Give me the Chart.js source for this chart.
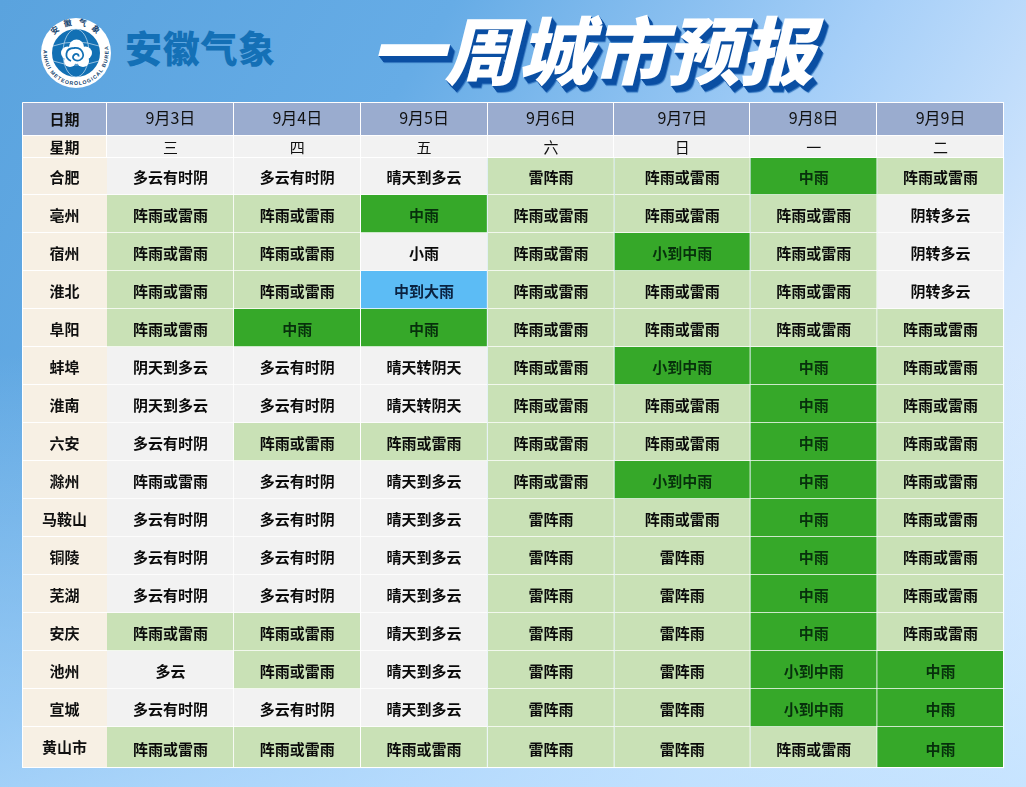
<!DOCTYPE html>
<html lang="zh">
<head>
<meta charset="utf-8">
<title>一周城市预报</title>
<script src="https://cdn.jsdelivr.net/npm/chart.js@4"></script>
<style>
    html, body { margin: 0; height: 100%; overflow: hidden; }
    body {
        position: relative;
        width: 1026px; height: 787px;
        background:
            linear-gradient(to top, rgba(185, 222, 255, 0.7) 0%, rgba(185, 222, 255, 0) 55%),
            linear-gradient(122deg, #5aa3de 0%, #66ace6 30%, #a6cff8 58%, #d2e6fd 78%, #e8f2ff 100%);
        font-family: "Noto Sans CJK SC", sans-serif;
    }
    #wrap { position: absolute; left: 0; top: 0; width: 1026px; height: 787px; }
    #logo { position: absolute; left: 40px; top: 17px; }
    #brand { position: absolute; left: 125px; top: 20px; font-size: 37px; line-height: 54px; font-weight: 900; letter-spacing: 0.7px; color: #1470b6; white-space: nowrap; }
    #title {
        position: absolute; left: 378px; top: -1px;
        font-size: 74px; line-height: 96px; font-weight: 900; color: #fff; white-space: nowrap;
        transform: skewX(-14deg);
        text-shadow: 1px 1px 0 #0b4fa3, 2px 2px 0 #0b4fa3, 3px 3px 0 #0b4fa3, 4px 4px 0 #0b4fa3, 5px 5px 0 #0b4fa3, 6px 6px 0 #0b4fa3, 7px 7px 1px #2f72bd;
    }
</style>
</head>
<body>
<svg id="logo" width="72" height="72" viewBox="0 0 72 72">
    <defs>
        <path id="arcTop" d="M 8 36 A 28 28 0 0 1 64 36"></path>
        <path id="arcBottom" d="M 4 30 A 32.5 32.5 0 1 0 68 30"></path>
    </defs>
    <circle cx="36" cy="36" r="35" fill="#fff"></circle>
    <circle cx="36" cy="36" r="24" fill="#1270b4"></circle>
    <g fill="none" stroke="#cfe4f3" stroke-width="0.7">
        <ellipse cx="36" cy="36" rx="13" ry="24"></ellipse>
        <path d="M13 29 Q36 21 59 29 M13 44 Q36 52 59 44"></path>
    </g>
    <g fill="#fff">
        <circle cx="36.5" cy="30" r="7.5"></circle>
        <circle cx="27.5" cy="36" r="6.5"></circle>
        <circle cx="45.5" cy="36" r="6.5"></circle>
        <circle cx="30" cy="44" r="6"></circle>
        <circle cx="43" cy="44" r="6"></circle>
        <circle cx="36.5" cy="38" r="9"></circle>
    </g>
    <path d="M31 44 C24 41 25 31 34 31 C43 30 46 40 40 43 C35 45 31 41 34 38 C36 36 39 37 38.5 39.5" fill="none" stroke="#1270b4" stroke-width="1.8"></path>
    <text font-size="8" font-weight="700" fill="#123f6d" letter-spacing="5.5" text-anchor="middle"><textPath href="#arcTop" startOffset="52%">安徽气象</textPath></text>
    <text font-size="5.2" font-weight="700" fill="#123f6d" font-family="Liberation Sans"><textPath href="#arcBottom" startOffset="3" textLength="116" lengthAdjust="spacing">ANHUI METEOROLOGICAL BUREAU</textPath></text>
</svg>
<div id="brand">安徽气象</div>
<div id="title">一周城市预报</div>
<div id="wrap"><canvas id="forecastChart"></canvas></div>

<script>
    const cities = ['合肥', '亳州', '宿州', '淮北', '阜阳', '蚌埠', '淮南', '六安', '滁州', '马鞍山', '铜陵', '芜湖', '安庆', '池州', '宣城', '黄山市'];
    const dates = ['9月3日', '9月4日', '9月5日', '9月6日', '9月7日', '9月8日', '9月9日'];
    const weekdays = ['三', '四', '五', '六', '日', '一', '二'];

    // 每天一列,顺序同 cities
    const sep3 = ['多云有时阴', '阵雨或雷雨', '阵雨或雷雨', '阵雨或雷雨', '阵雨或雷雨', '阴天到多云', '阴天到多云', '多云有时阴', '阵雨或雷雨', '多云有时阴', '多云有时阴', '多云有时阴', '阵雨或雷雨', '多云', '多云有时阴', '阵雨或雷雨'];
    const sep4 = ['多云有时阴', '阵雨或雷雨', '阵雨或雷雨', '阵雨或雷雨', '中雨', '多云有时阴', '多云有时阴', '阵雨或雷雨', '多云有时阴', '多云有时阴', '多云有时阴', '多云有时阴', '阵雨或雷雨', '阵雨或雷雨', '多云有时阴', '阵雨或雷雨'];
    const sep5 = ['晴天到多云', '中雨', '小雨', '中到大雨', '中雨', '晴天转阴天', '晴天转阴天', '阵雨或雷雨', '晴天到多云', '晴天到多云', '晴天到多云', '晴天到多云', '晴天到多云', '晴天到多云', '晴天到多云', '阵雨或雷雨'];
    const sep6 = ['雷阵雨', '阵雨或雷雨', '阵雨或雷雨', '阵雨或雷雨', '阵雨或雷雨', '阵雨或雷雨', '阵雨或雷雨', '阵雨或雷雨', '阵雨或雷雨', '雷阵雨', '雷阵雨', '雷阵雨', '雷阵雨', '雷阵雨', '雷阵雨', '雷阵雨'];
    const sep7 = ['阵雨或雷雨', '阵雨或雷雨', '小到中雨', '阵雨或雷雨', '阵雨或雷雨', '小到中雨', '阵雨或雷雨', '阵雨或雷雨', '小到中雨', '阵雨或雷雨', '雷阵雨', '雷阵雨', '雷阵雨', '雷阵雨', '雷阵雨', '雷阵雨'];
    const sep8 = ['中雨', '阵雨或雷雨', '阵雨或雷雨', '阵雨或雷雨', '阵雨或雷雨', '中雨', '中雨', '中雨', '中雨', '中雨', '中雨', '中雨', '中雨', '小到中雨', '小到中雨', '阵雨或雷雨'];
    const sep9 = ['阵雨或雷雨', '阴转多云', '阴转多云', '阴转多云', '阵雨或雷雨', '阵雨或雷雨', '阵雨或雷雨', '阵雨或雷雨', '阵雨或雷雨', '阵雨或雷雨', '阵雨或雷雨', '阵雨或雷雨', '阵雨或雷雨', '中雨', '中雨', '中雨'];
    const days = [sep3, sep4, sep5, sep6, sep7, sep8, sep9];

    // 原表 9月7日 这一列略宽
    const dayWidths = [1, 1, 1, 1, 1.072, 1, 1];
    const totalWidth = dayWidths.reduce((a, b) => a + b, 0);
    const dayCentres = dayWidths.map((w, i) => dayWidths.slice(0, i).reduce((a, b) => a + b, 0) + w / 2);

    const cellFont = 'bold 15px "Noto Sans CJK SC"';
    const fontFamily = '"Noto Sans CJK SC"';
    const lastRowExtra = 3; // 原表最后一行比其他行高一点

    function cellColor(text, day, city) {
        if (text === '中雨' || text === '小到中雨') return '#36a829';
        if (text === '中到大雨') return '#5cbcf5';
        if (text === '阵雨或雷雨' || text === '雷阵雨') {
            // 滁州 9月3日 原表没有上色
            if (cities[city] === '滁州' && day === 0) return '#f2f2f2';
            return '#c9e1b6';
        }
        return '#f2f2f2';
    }

    function textColor(text) {
        if (text === '中雨' || text === '小到中雨') return '#07300c';
        if (text === '中到大雨') return '#0a2240';
        return '#0a0a0a';
    }

    // 顶部两行表头用 linear 轴,刻度放在每列中心
    function headerAxis(labels, height, weight, background, font, padding) {
        return {
            type: 'linear',
            position: 'top',
            weight: weight,
            min: 0,
            max: totalWidth,
            backgroundColor: background,
            border: { display: false },
            grid: { display: false, drawTicks: false },
            afterBuildTicks: axis => { axis.ticks = dayCentres.map(v => ({ value: v })); },
            afterFit: axis => { axis.height = height; },
            ticks: {
                autoSkip: false,
                maxRotation: 0,
                padding: padding,
                color: '#101010',
                font: font,
                callback: (value, index) => labels[index]
            }
        };
    }

    // 单元格文字、左上角表头和白色分隔线
    const tablePlugin = {
        id: 'tablePlugin',
        afterDatasetsUpdate(chart) {
            chart.data.datasets.forEach((ds, d) => {
                const bar = chart.getDatasetMeta(d).data[cities.length - 1];
                bar.height += lastRowExtra;
                bar.y += lastRowExtra / 2;
            });
        },
        afterDatasetsDraw(chart) {
            const { ctx } = chart;
            ctx.save();
            ctx.textAlign = 'center';
            ctx.textBaseline = 'middle';
            ctx.font = cellFont;
            chart.data.datasets.forEach((ds, d) => {
                chart.getDatasetMeta(d).data.forEach((bar, i) => {
                    ctx.fillStyle = textColor(days[d][i]);
                    ctx.fillText(days[d][i], (bar.x + bar.base) / 2, bar.y + 1.5);
                });
            });
            ctx.restore();
        },
        afterDraw(chart) {
            const { ctx, chartArea, scales: { x, week, y } } = chart;
            const left = y.left, right = chartArea.right, bottom = chartArea.bottom + lastRowExtra;
            ctx.save();
            ctx.fillStyle = '#9aaccf';
            ctx.fillRect(left, x.top, y.width, x.height);
            ctx.fillStyle = '#f7f0e4';
            ctx.fillRect(left, week.top, y.width, week.height);
            ctx.fillRect(left, chartArea.bottom, y.width, lastRowExtra);
            ctx.textAlign = 'center';
            ctx.textBaseline = 'middle';
            ctx.font = cellFont;
            ctx.fillStyle = '#101010';
            ctx.fillText('日期', left + y.width / 2, x.top + x.height / 2 + 1);
            ctx.fillText('星期', left + y.width / 2, week.top + week.height / 2 + 1);

            ctx.strokeStyle = '#ffffff';
            ctx.lineWidth = 1;
            ctx.beginPath();
            ctx.rect(left + 0.5, x.top + 0.5, right - left - 1, bottom - x.top - 1);
            [week.top, chartArea.top].forEach(py => {
                ctx.moveTo(left, Math.round(py) + 0.5);
                ctx.lineTo(right, Math.round(py) + 0.5);
            });
            // 城市列的横线
            cities.slice(0, -1).forEach((c, i) => {
                const py = Math.round(y.getPixelForValue(i) + y.height / cities.length / 2) - 0.5;
                ctx.moveTo(left, py);
                ctx.lineTo(chartArea.left, py);
            });
            // 表头的竖线
            let edge = 0;
            [0].concat(dayWidths).forEach(w => {
                edge += w;
                const px = Math.round(x.getPixelForValue(edge)) - 0.5;
                ctx.moveTo(px, x.top);
                ctx.lineTo(px, chartArea.top);
            });
            ctx.stroke();
            ctx.restore();
        }
    };

    const ctx = document.getElementById('forecastChart').getContext('2d');
    const chart = new Chart(ctx, {
        type: 'bar',
        plugins: [tablePlugin],
        data: {
            labels: cities,
            datasets: days.map((day, d) => ({
                label: dates[d],
                data: cities.map(() => dayWidths[d]),
                backgroundColor: day.map((text, i) => cellColor(text, d, i)),
                borderColor: '#ffffff',
                borderWidth: { top: 0, left: 0, right: 1, bottom: 1 },
                borderSkipped: false,
                barPercentage: 1,
                categoryPercentage: 1,
                clip: false
            }))
        },
        options: {
            indexAxis: 'y',
            responsive: true,
            maintainAspectRatio: false,
            animation: false,
            events: [],
            layout: { padding: { left: 22, right: 22, top: 102, bottom: 22 } },
            plugins: {
                legend: { display: false },
                tooltip: { enabled: false }
            },
            scales: {
                x: Object.assign(headerAxis(dates, 33, 1, '#9aaccf', { family: fontFamily, size: 16 }, 7), { stacked: true }),
                week: headerAxis(weekdays, 22, 0, '#f2f2f2', { family: fontFamily, size: 15 }, 1),
                y: {
                    stacked: true,
                    backgroundColor: '#f7f0e4',
                    border: { display: false },
                    grid: { display: false, drawTicks: false },
                    afterFit: axis => {
                        axis.width = 85;
                        // tick padding 只用来把文字居中,不要占行高
                        axis.paddingTop = 0;
                        axis.paddingBottom = 0;
                    },
                    ticks: {
                        autoSkip: false,
                        padding: 20,
                        crossAlign: 'center',
                        labelOffset: 1.5,
                        color: '#101010',
                        font: { family: fontFamily, size: 15, weight: 'bold' }
                    }
                }
            }
        }
    });
</script>
</body>
</html>
